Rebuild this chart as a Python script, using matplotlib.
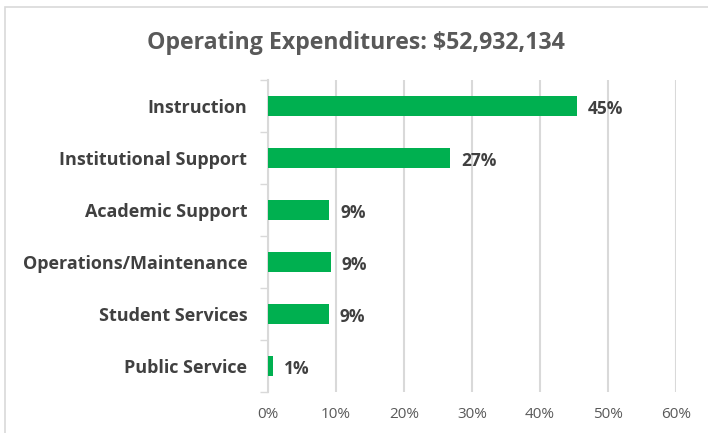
import matplotlib.pyplot as plt
from matplotlib.patches import Rectangle

categories = ['Instruction', 'Institutional Support', 'Academic Support',
              'Operations/Maintenance', 'Student Services', 'Public Service']
shares = [0.454, 0.268, 0.090, 0.092, 0.089, 0.008]
labels = ['45%', '27%', '9%', '9%', '9%', '1%']
ticks = [0, 0.1, 0.2, 0.3, 0.4, 0.5, 0.6]
tick_labels = ['0%', '10%', '20%', '30%', '40%', '50%', '60%']

plt.rcParams['font.family'] = ['Open Sans', 'DejaVu Sans']

fig = plt.figure(figsize=(7.08, 4.33), dpi=100)
fig.patches.append(Rectangle((5 / 708, -0.05), 1.1, 1.05 - 7 / 433,
                             transform=fig.transFigure, fill=False,
                             edgecolor='#d9d9d9', linewidth=1.2))

ax = fig.add_axes([268 / 708, 1 - 392 / 433, 408 / 708, 312 / 433])
y = list(range(len(categories)))
ax.barh(y, shares, height=0.37, color='#00b050', zorder=3)
for yi, v, lab in zip(y, shares, labels):
    ax.text(v + 0.016, yi + 0.05, lab, va='center', ha='left', fontsize=12.5,
            fontweight='bold', color='#404040')

ax.set_xlim(0, 0.6)
ax.set_ylim(len(categories) - 0.5, -0.5)
ax.set_xticks(ticks)
ax.set_xticklabels(tick_labels, fontsize=11, color='#595959')
ax.set_yticks(y)
ax.set_yticklabels(categories, fontsize=13, fontweight='bold', color='#404040')
ax.tick_params(axis='x', length=0, pad=11)
ax.tick_params(axis='y', length=0, pad=15)
ax.set_yticks([i + 0.5 for i in range(-1, len(categories))], minor=True)
ax.tick_params(axis='y', which='minor', length=6, color='#d9d9d9', width=1)
ax.grid(axis='x', color='#d9d9d9', linewidth=1.5, zorder=0)
for s in ['top', 'right', 'bottom']:
    ax.spines[s].set_visible(False)
ax.spines['left'].set_color('#d9d9d9')
ax.spines['left'].set_linewidth(1.5)

fig.text(356 / 708, 1 - 43 / 433, 'Operating Expenditures: $52,932,134',
         ha='center', va='center', fontsize=16.7, fontweight='bold', color='#595959')

fig.savefig('out.png', dpi=100)
